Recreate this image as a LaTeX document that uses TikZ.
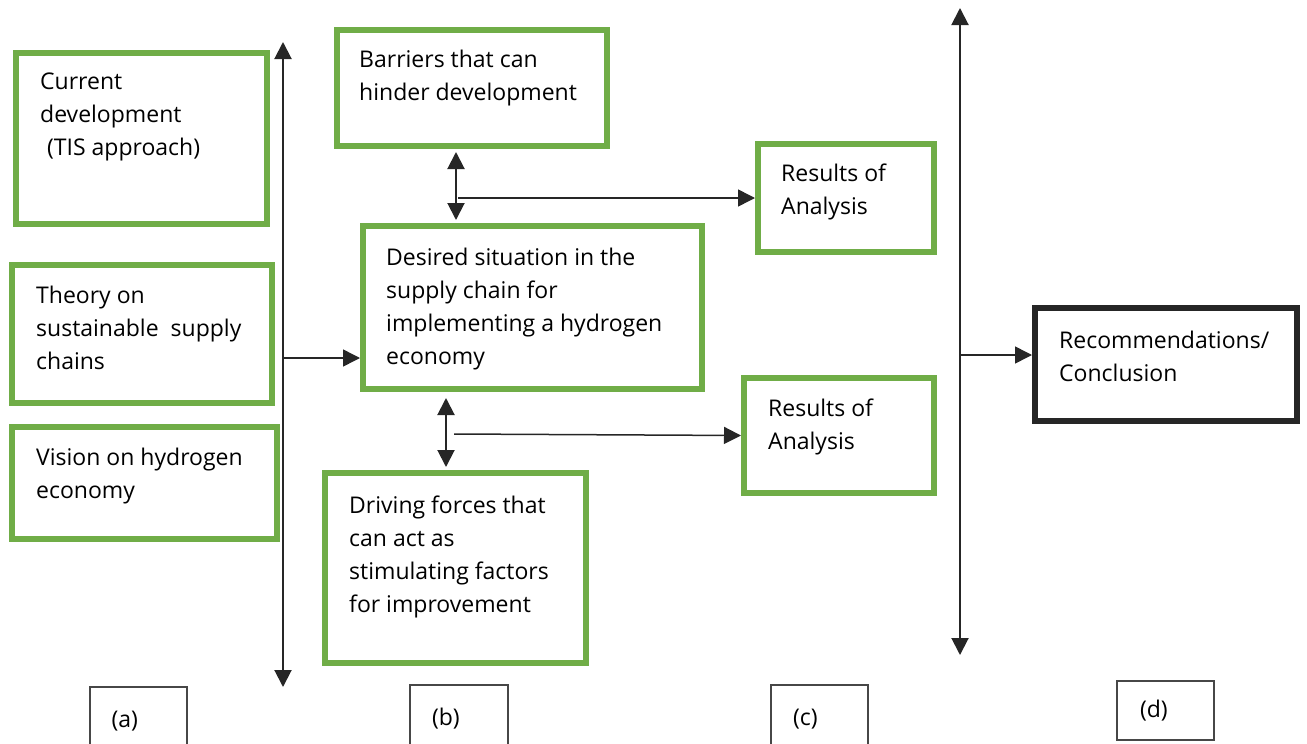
\documentclass[tikz,border=0pt]{standalone}
\usepackage{fontspec}
\setmainfont{Open Sans}
\usetikzlibrary{arrows.meta,positioning}
\definecolor{boxgreen}{HTML}{70AD47}
\definecolor{ink}{HTML}{262626}
\begin{document}
\begin{tikzpicture}[x=1pt,y=-1pt,line join=miter,>={Triangle[length=17pt,width=17pt]},
  gbox/.style={draw=boxgreen,line width=6pt,inner sep=0pt},
  kbox/.style={draw=ink,line width=6pt,inner sep=0pt},
  txt/.style={inner sep=0pt,align=left,font=\fontsize{23}{33}\selectfont},
  labbox/.style={draw=ink!85,line width=1.5pt,minimum width=97pt,minimum height=68pt,
    text width=54pt,inner xsep=21pt,align=left,font=\fontsize{23}{33}\selectfont},
  arr/.style={->,draw=ink,line width=1.5pt},
  dbl/.style={<->,draw=ink,line width=2pt}]
\useasboundingbox (0,0) rectangle (1307,744);
\clip (0,0) rectangle (1307,744);

% column (a)
\node[gbox,minimum width=251pt,minimum height=171pt] (cur) at (141.5,138.5) {};
\node[gbox,minimum width=260pt,minimum height=138pt] (theory) at (142,334) {};
\node[gbox,minimum width=265pt,minimum height=112pt] (vision) at (144.5,483) {};
\node[txt,below right=23pt and 27pt of cur.north west] {Current\\development\\\hspace*{0.3em}(TIS approach)};
\node[txt,below right=24pt and 27pt of theory.north west] {Theory on\\sustainable~~supply\\chains};
\node[txt,below right=24pt and 27pt of vision.north west] {Vision on hydrogen\\economy};

% column (b)
\node[gbox,minimum width=270pt,minimum height=116pt] (barr) at (472,88) {};
\node[gbox,minimum width=339pt,minimum height=163pt] (des) at (532.5,307.5) {};
\node[gbox,minimum width=261pt,minimum height=190pt] (drive) at (455.5,568) {};
\node[txt,below right=23pt and 25pt of barr.north west] {Barriers that can\\hinder development};
\node[txt,below right=25pt and 26pt of des.north west] {Desired situation in the\\supply chain for\\implementing a hydrogen\\economy};
\node[txt,below right=26pt and 27pt of drive.north west] {Driving forces that\\can act as\\stimulating factors\\for improvement};

% column (c)
\node[gbox,minimum width=176pt,minimum height=108pt] (res1) at (846,198) {};
\node[gbox,minimum width=190pt,minimum height=115pt] (res2) at (839,435.5) {};
\node[txt,below right=23pt and 26pt of res1.north west] {Results of\\Analysis};
\node[txt,below right=24pt and 27pt of res2.north west] {Results of\\Analysis};

% column (d)
\node[kbox,minimum width=262pt,minimum height=113pt] (rec) at (1166,364.5) {};
\node[txt,below right=26pt and 27pt of rec.north west] {Recommendations/\\Conclusion};

% spines and connectors
\coordinate (atop) at (283,42);
\coordinate (abot) at (283,687);
\coordinate (a1) at (283,358);
\draw[dbl] (atop) -- (abot);
\draw[arr] (a1) -- (a1 -| des.west);

\coordinate (j1) at (456,198);
\draw[dbl,shorten <=3pt,shorten >=3pt] (barr.south -| j1) -- (des.north -| j1);
\draw[arr] ([xshift=2pt]j1) -- (res1.west);

\coordinate (j2) at (446,434);
\draw[dbl,shorten <=6pt,shorten >=3pt] (des.south -| j2) -- (drive.north -| j2);
\draw[arr] ([xshift=8pt]j2) -- (res2.west);

\coordinate (dtop) at (960,8);
\coordinate (dbot) at (960,655);
\coordinate (d1) at (960,355);
\draw[dbl] (dtop) -- (dbot);
\draw[arr] (d1) -- (d1 -| rec.west);

% labels
\node[labbox] (laba) at (138.5,721) {(a)};
\node[labbox,inner xsep=22pt,text width=54pt] (labb) at (459,719) {(b)};
\node[labbox,inner xsep=22pt,text width=53pt] (labc) at (819.5,719) {(c)};
\node[labbox,inner xsep=23pt,text width=51pt,minimum height=59pt] (labd) at (1165.5,710.5) {(d)};
\end{tikzpicture}
\end{document}
